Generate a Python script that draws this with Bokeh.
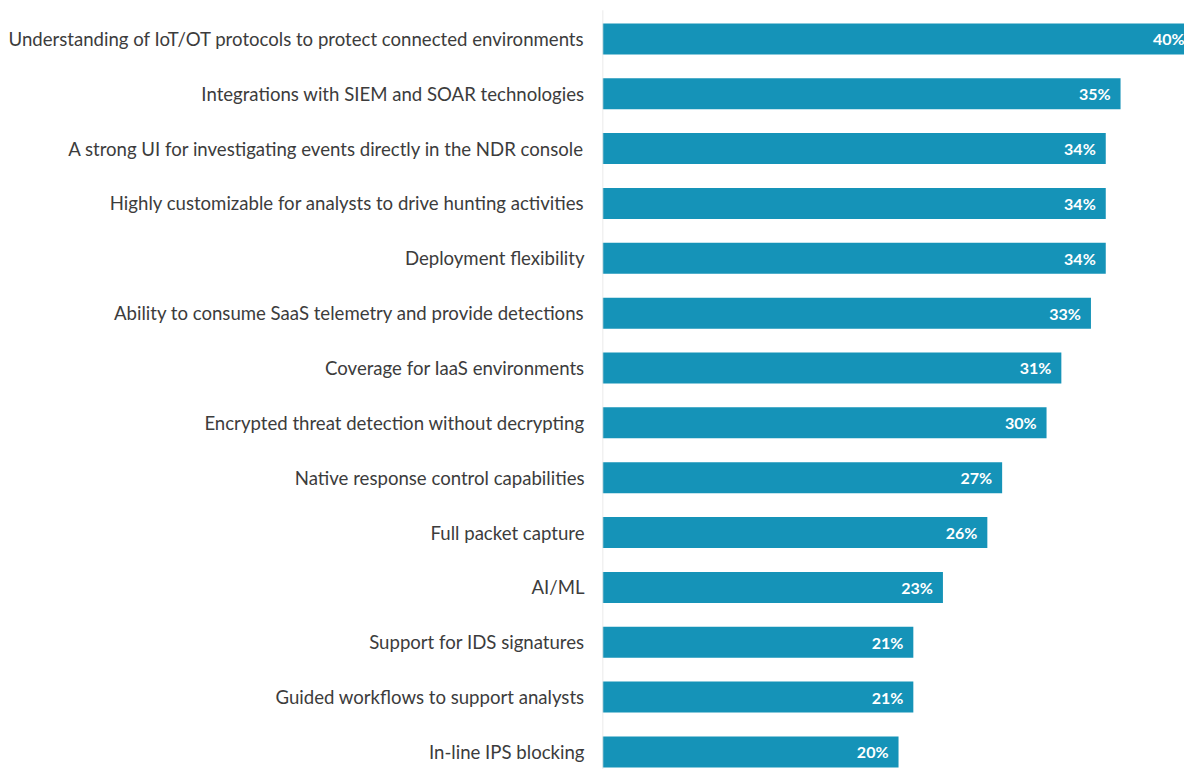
from bokeh.plotting import figure
from bokeh.models import Range1d, ColumnDataSource, FixedTicker
from bokeh.core.properties import value
from bokeh.embed import file_html
from bokeh.resources import INLINE

categories = [
    "Understanding of IoT/OT protocols to protect connected environments",
    "Integrations with SIEM and SOAR technologies",
    "A strong UI for investigating events directly in the NDR console",
    "Highly customizable for analysts to drive hunting activities",
    "Deployment flexibility",
    "Ability to consume SaaS telemetry and provide detections",
    "Coverage for IaaS environments",
    "Encrypted threat detection without decrypting",
    "Native response control capabilities",
    "Full packet capture",
    "AI/ML",
    "Support for IDS signatures",
    "Guided workflows to support analysts",
    "In-line IPS blocking",
]
values = [40, 35, 34, 34, 34, 33, 31, 30, 27, 26, 23, 21, 21, 20]
value_labels = [f"{v}%" for v in values]

pos = list(range(len(categories)))
src = ColumnDataSource(dict(y=pos, v=values, lab=value_labels, zero=[0] * len(values)))

p = figure(width=1184, height=769, output_backend="svg", toolbar_location=None,
           x_range=Range1d(0, 39.32), y_range=Range1d(13.32, -0.70),
           min_border_left=602, min_border_right=0, min_border_top=0, min_border_bottom=0)
p.outline_line_color = None
p.xgrid.visible = False
p.ygrid.visible = False
p.xaxis.visible = False
p.background_fill_color = "white"
p.border_fill_color = "white"

p.hbar(y="y", left="zero", right="v", height=0.565, source=src,
       fill_color="#1593b8", line_color=None)

p.segment(x0=[0], x1=[0], y0=[-0.52], y1=[13.32], line_color="#e3e3e3", line_width=1.5)

p.text(x="v", y="y", text="lab", source=src, x_offset=-10, text_align="right",
       text_baseline="middle", text_color="white", text_font=value("Lato"),
       text_font_size="16px", text_font_style="bold")

ya = p.yaxis[0]
ya.ticker = FixedTicker(ticks=pos)
ya.major_label_overrides = {i: c for i, c in enumerate(categories)}
ya.axis_line_color = None
ya.major_tick_line_color = None
ya.minor_tick_line_color = None
ya.major_tick_out = 0
ya.major_tick_in = 0
ya.major_label_standoff = 18
ya.major_label_text_font = "Lato"
ya.major_label_text_font_size = "18.6px"
ya.major_label_text_color = "#3c3c3c"

open("out.html", "w").write(file_html(p, INLINE))
